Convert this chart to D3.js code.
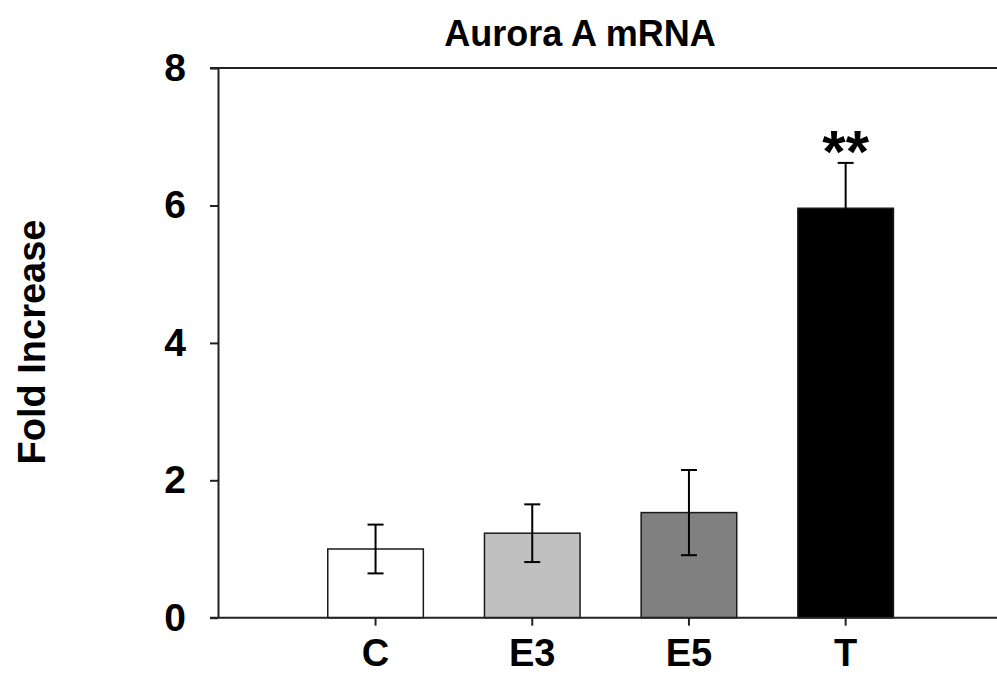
<!DOCTYPE html>
<html>
<head>
<meta charset="utf-8">
<script src="https://cdnjs.cloudflare.com/ajax/libs/d3/7.8.5/d3.min.js"></script>
<style>
  body { margin: 0; background: #fff; }
  svg { display: block; font-family: "Liberation Sans", Arial, sans-serif; }
</style>
</head>
<body>
<svg width="997" height="693"></svg>
<script>
var categories = ["C", "E3", "E5", "T"],
	means = [1.0, 1.23, 1.53, 5.96],
	errors = [0.355, 0.42, 0.62, 0.66],
	fills = ["#ffffff", "#c0c0c0", "#808080", "#000000"],
	yTicks = [0, 2, 4, 6, 8],
	marks = ["", "", "", "**"];

var data = categories.map(function(c, i) {
	return {cat: c, mean: means[i], err: errors[i], fill: fills[i], mark: marks[i]};
});

var svg = d3.select("svg"),
	axisX = 218,
	rightEdge = 997;

var x = d3.scaleBand()
	.domain(categories)
	.range([297.2, 924])
	.paddingInner(0.39)
	.paddingOuter(0.195);

var y = d3.scaleLinear()
	.domain([0, 8])
	.range([617.7, 68.1]);

// top frame line runs out to the right edge
svg.append("line")
	.attr("x1", axisX - 8).attr("x2", rightEdge)
	.attr("y1", y(8)).attr("y2", y(8))
	.attr("stroke", "#222").attr("stroke-width", 2);

// bars
svg.selectAll(".bar")
	.data(data)
	.enter().append("rect")
	.attr("class", "bar")
	.attr("x", function(d) { return x(d.cat); })
	.attr("y", function(d) { return y(d.mean); })
	.attr("width", x.bandwidth())
	.attr("height", function(d) { return y(0) - y(d.mean); })
	.attr("fill", function(d) { return d.fill; })
	.attr("stroke", "#1a1a1a")
	.attr("stroke-width", 1.5);

// error bars
var eb = svg.selectAll(".err")
	.data(data)
	.enter().append("g")
	.attr("class", "err")
	.attr("stroke", "#000")
	.attr("stroke-width", 2);

eb.append("line")
	.attr("x1", function(d) { return x(d.cat) + x.bandwidth() / 2; })
	.attr("x2", function(d) { return x(d.cat) + x.bandwidth() / 2; })
	.attr("y1", function(d) { return y(d.mean - d.err); })
	.attr("y2", function(d) { return y(d.mean + d.err); });

eb.append("line")
	.attr("x1", function(d) { return x(d.cat) + x.bandwidth() / 2 - 8; })
	.attr("x2", function(d) { return x(d.cat) + x.bandwidth() / 2 + 8; })
	.attr("y1", function(d) { return y(d.mean + d.err); })
	.attr("y2", function(d) { return y(d.mean + d.err); });

eb.append("line")
	.attr("x1", function(d) { return x(d.cat) + x.bandwidth() / 2 - 8; })
	.attr("x2", function(d) { return x(d.cat) + x.bandwidth() / 2 + 8; })
	.attr("y1", function(d) { return y(d.mean - d.err); })
	.attr("y2", function(d) { return y(d.mean - d.err); });

// significance marks
svg.selectAll(".mark")
	.data(data)
	.enter().append("text")
	.attr("class", "mark")
	.attr("x", function(d) { return x(d.cat) + x.bandwidth() / 2; })
	.attr("y", function(d) { return y(d.mean + d.err) + 9; })
	.attr("text-anchor", "middle")
	.style("font-size", "60px")
	.style("font-weight", "bold")
	.text(function(d) { return d.mark; });

// y axis
var gy = svg.append("g")
	.attr("transform", "translate(" + axisX + ",0)")
	.call(d3.axisLeft(y).tickValues(yTicks).tickSize(8).tickSizeOuter(0).tickPadding(24));
gy.select(".domain").attr("stroke", "#222").attr("stroke-width", 2);
gy.selectAll(".tick line").attr("stroke", "#222").attr("stroke-width", 2);
gy.selectAll(".tick text")
	.attr("fill", "#000")
	.style("font-size", "39px")
	.style("font-weight", "bold")
	.style("font-family", "'Liberation Sans', Arial, sans-serif");

// x axis
svg.append("line")
	.attr("x1", axisX - 8).attr("x2", rightEdge)
	.attr("y1", y(0)).attr("y2", y(0))
	.attr("stroke", "#222").attr("stroke-width", 2);

var gx = svg.append("g")
	.attr("transform", "translate(0," + y(0) + ")")
	.call(d3.axisBottom(x).tickSize(8).tickPadding(13));
gx.select(".domain").remove();
gx.selectAll(".tick line").attr("stroke", "#222").attr("stroke-width", 2);
gx.selectAll(".tick text")
	.attr("fill", "#000")
	.style("font-size", "38px")
	.style("font-weight", "bold")
	.style("font-family", "'Liberation Sans', Arial, sans-serif");

// title
svg.append("text")
	.attr("x", 580)
	.attr("y", 46)
	.attr("text-anchor", "middle")
	.style("font-size", "36px")
	.style("font-weight", "bold")
	.text("Aurora A mRNA");

// y axis label
svg.append("text")
	.attr("transform", "translate(45,342) rotate(-90)")
	.attr("text-anchor", "middle")
	.style("font-size", "38px")
	.style("font-weight", "bold")
	.text("Fold Increase");
</script>
</body>
</html>
